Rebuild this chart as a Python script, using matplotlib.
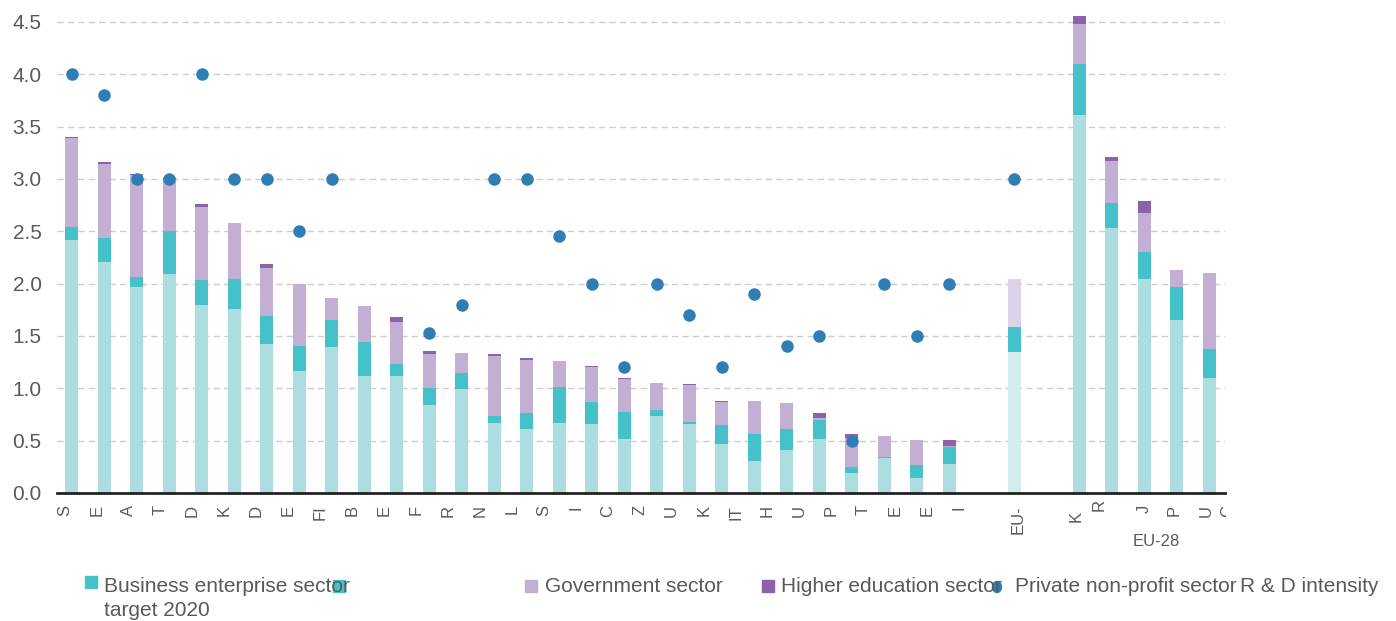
import numpy as np
import matplotlib.pyplot as plt
from matplotlib.patches import Rectangle, Ellipse

# ── Data ──────────────────────────────────────────────────────────────────────
main_labels = ['S', 'E', 'A', 'T', 'D', 'K', 'D', 'E', 'FI', 'B', 'E', 'F',
               'R', 'N', 'L', 'S', 'I', 'C', 'Z', 'U', 'K', 'IT', 'H', 'U',
               'P', 'T', 'E', 'E', 'I']
right_labels = ['EU-', 'K', 'R', 'J', 'P', 'U']

# 28 countries, EU-28, then 5 partner economies
business = [2.42, 2.21, 1.97, 2.09, 1.80, 1.76, 1.42, 1.17, 1.39, 1.12, 1.12,
            0.84, 0.99, 0.67, 0.61, 0.67, 0.66, 0.52, 0.74, 0.66, 0.47, 0.31,
            0.41, 0.52, 0.19, 0.33, 0.14, 0.28,
            1.35,
            3.61, 2.53, 2.04, 1.65, 1.10]
government = [0.12, 0.23, 0.09, 0.41, 0.23, 0.28, 0.27, 0.23, 0.26, 0.32,
              0.11, 0.16, 0.16, 0.07, 0.15, 0.34, 0.21, 0.25, 0.05, 0.02,
              0.18, 0.25, 0.20, 0.18, 0.06, 0.01, 0.13, 0.16,
              0.24,
              0.49, 0.24, 0.26, 0.32, 0.28]
higher_edu = [0.85, 0.70, 0.98, 0.52, 0.70, 0.54, 0.46, 0.60, 0.21, 0.35,
              0.40, 0.33, 0.19, 0.57, 0.51, 0.25, 0.33, 0.32, 0.26, 0.35,
              0.22, 0.32, 0.25, 0.02, 0.28, 0.20, 0.24, 0.01,
              0.45,
              0.38, 0.40, 0.37, 0.16, 0.72]
non_profit = [0.01, 0.02, 0.01, 0.00, 0.03, 0.00, 0.04, 0.00, 0.00, 0.00,
              0.05, 0.03, 0.00, 0.02, 0.02, 0.00, 0.01, 0.01, 0.00, 0.01,
              0.01, 0.00, 0.00, 0.04, 0.03, 0.00, 0.00, 0.06,
              0.00,
              0.08, 0.04, 0.12, 0.00, 0.00]
target_2020 = [4.0, 3.8, 3.0, 3.0, 4.0, 3.0, 3.0, 2.5, 3.0, np.nan, np.nan,
               1.53, 1.8, 3.0, 3.0, 2.45, 2.0, 1.2, 2.0, 1.7, 1.2, 1.9, 1.4,
               1.5, 0.5, 2.0, 1.5, 2.0,
               3.0,
               np.nan, np.nan, np.nan, np.nan, np.nan]

# ── Style ─────────────────────────────────────────────────────────────────────
C_BUS = '#ABDDE1'
C_GOV = '#45C2C9'
C_HE = '#C3AED4'
C_NP = '#8C63A8'
C_DOT = '#2E7EB5'
C_BUS_EU = '#D3ECEE'
C_HE_EU = '#DCD3E8'
TXT = '#595959'

plt.rcParams['font.family'] = ['Liberation Sans', 'DejaVu Sans']

n_main = 28
n_partner = 5
x = np.r_[np.arange(n_main), n_main + 1, n_main + 3 + np.arange(n_partner)]
eu_idx = n_main

W, H = 1396, 621
fig = plt.figure(figsize=(W / 100, H / 100), dpi=100)
ax = fig.add_axes([57 / W, 128 / H, 1168 / W, 483.7 / H])

bus = np.array(business)
gov = np.array(government)
he = np.array(higher_edu)
npf = np.array(non_profit)

bus_col = [C_BUS_EU if i == eu_idx else C_BUS for i in range(len(x))]
he_col = [C_HE_EU if i == eu_idx else C_HE for i in range(len(x))]

bw = 0.4
ax.bar(x, bus, bw, color=bus_col, zorder=2)
ax.bar(x, gov, bw, bottom=bus, color=C_GOV, zorder=2)
ax.bar(x, he, bw, bottom=bus + gov, color=he_col, zorder=2)
ax.bar(x, npf, bw, bottom=bus + gov + he, color=C_NP, zorder=2)
ax.plot(x, target_2020, 'o', ls='none', color=C_DOT, ms=9, mew=0, zorder=3)

# axes cosmetics
ax.set_xlim(-0.46, 35.48)
ax.set_ylim(0, 4.62)
yt = np.arange(0, 4.51, 0.5)
ax.set_yticks(yt)
ax.set_yticklabels([f'{v:.1f}' for v in yt], fontsize=15, color=TXT)
ax.tick_params(axis='y', length=0, pad=11)
ax.set_xticks([])
for v in yt[1:]:
    ax.axhline(v, color='#CCCCCC', lw=1.0, ls=(0, (4.5, 3)), zorder=1)
for s in ['top', 'right', 'left']:
    ax.spines[s].set_visible(False)
ax.spines['bottom'].set_color('#222222')
ax.spines['bottom'].set_linewidth(2)
ax.spines['bottom'].set_zorder(4)

# category labels under the bars
xt = ax.get_xaxis_transform()
main_pos = np.linspace(-0.22, 27.3, len(main_labels))
right_pos = [29.1, 30.9, 31.6, 33.0, 33.9, 34.9]
right_dy = [0.0, -0.012, 0.012, 0.0, 0.0, 0.0]
for p, lab in zip(main_pos, main_labels):
    ax.text(p, -0.025, lab, rotation=90, ha='center', va='top',
            fontsize=12, color=TXT, transform=xt)
for p, lab, dy in zip(right_pos, right_labels, right_dy):
    ax.text(p, -0.025 + dy, lab, rotation=90, ha='center', va='top',
            fontsize=12, color=TXT, transform=xt)

# last label runs off the plot edge; only its left sliver shows
cut = ax.text(35.55, -0.025, 'C', rotation=90, ha='center', va='top',
              fontsize=12, color=TXT, transform=xt, clip_on=True)
cut.set_clip_path(Rectangle((0, 0), 1226, H, transform=None))
fig.text(1156 / W, 1 - 541 / H, 'EU-28', ha='center', va='center',
         fontsize=12, color=TXT)

# ── Legend ────────────────────────────────────────────────────────────────────
def sq(x0, y0, color, size=12):
    fig.patches.append(Rectangle((x0 / W, 1 - (y0 + size) / H), size / W,
                                 size / H, color=color,
                                 transform=fig.transFigure))


def lbl(x0, yc, s):
    fig.text(x0 / W, 1 - yc / H, s, ha='left', va='center', fontsize=15,
             color=TXT)


sq(85, 576, C_GOV)
lbl(104, 586, 'Business enterprise sector')
lbl(104, 610, 'target 2020')
sq(333, 580, C_GOV)
sq(525, 580, C_HE)
lbl(545, 587, 'Government sector')
sq(762, 580, C_NP)
lbl(781, 587, 'Higher education sector')
fig.patches.append(Ellipse((997 / W, 1 - 587 / H), 9 / W, 11 / H,
                           color=C_DOT, transform=fig.transFigure))
lbl(1015, 587, 'Private non-profit sector')
lbl(1240, 587, 'R & D intensity')

fig.savefig('out.png', dpi=100)
